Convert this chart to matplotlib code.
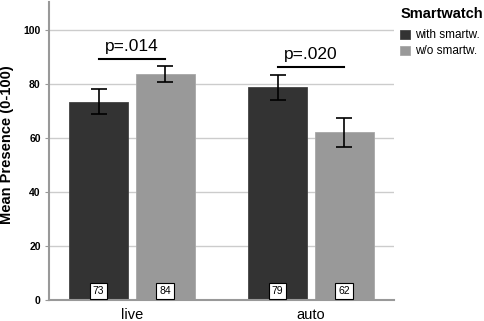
import numpy as np
import matplotlib
matplotlib.use("Agg")
import matplotlib.pyplot as plt

plt.rcParams["font.family"] = ["Liberation Sans", "DejaVu Sans"]

conditions = ["live", "auto"]
with_sw = [73.5, 78.8]
without_sw = [83.7, 62.1]
with_err = [4.7, 4.7]
without_err = [2.9, 5.5]
with_labels = ["73", "79"]
without_labels = ["84", "62"]
p_texts = ["p=.014", "p=.020"]
p_levels = [89.2, 86.5]
series_names = ["with smartw.", "w/o smartw."]

dark, light = "#333333", "#999999"

fig = plt.figure(figsize=(4.84, 3.21), dpi=100)
ax = fig.add_axes([49 / 484, 21.5 / 321, 345 / 484, 297.5 / 321])

x = np.arange(len(conditions))
w = 0.33
off = 0.186

ax.set_axisbelow(True)
ax.yaxis.grid(True, color="#cccccc", lw=1)

b1 = ax.bar(x - off, with_sw, w, color=dark, edgecolor="#444444", lw=0.6, label=series_names[0])
b2 = ax.bar(x + off, without_sw, w, color=light, edgecolor="#a8a8a8", lw=0.6, label=series_names[1])
ax.errorbar(x - off, with_sw, yerr=with_err, fmt="none", ecolor="black", elinewidth=1.2, capsize=6, capthick=1.2)
ax.errorbar(x + off, without_sw, yerr=without_err, fmt="none", ecolor="black", elinewidth=1.2, capsize=6, capthick=1.2)

# n labels at bar bottoms
for xi, lab in zip(x - off, with_labels):
    ax.text(xi, 3.2, lab, ha="center", va="center", fontsize=7.5,
            bbox=dict(boxstyle="square,pad=0.3", fc="white", ec="black", lw=0.8))
for xi, lab in zip(x + off, without_labels):
    ax.text(xi, 3.2, lab, ha="center", va="center", fontsize=7.5,
            bbox=dict(boxstyle="square,pad=0.3", fc="white", ec="black", lw=0.8))

# significance lines
for xi, lvl, txt in zip(x, p_levels, p_texts):
    ax.plot([xi - off, xi + off], [lvl, lvl], color="black", lw=1.5)
    ax.text(xi, lvl + 3.0, txt, ha="center", va="baseline", fontsize=12.5)

ax.set_xlim(-0.463, 1.465)
ax.set_ylim(0, 110.5)
ax.set_yticks([0, 20, 40, 60, 80, 100])
ax.set_xticks(x)
ax.set_xticklabels(conditions, fontsize=10.5)
ax.tick_params(axis="x", length=0, pad=6)
ax.tick_params(axis="y", length=3, color="#999999", labelsize=7.5, pad=3)
for t in ax.get_yticklabels():
    t.set_fontweight("bold")

for s in ["top", "right"]:
    ax.spines[s].set_visible(False)
for s in ["left", "bottom"]:
    ax.spines[s].set_color("#999999")
    ax.spines[s].set_linewidth(1.5)

ax.set_ylabel("Mean Presence (0-100)", fontsize=10.5, fontweight="bold")
ax.yaxis.set_label_coords(-0.1, 0.52)

fig.text(401 / 484, 1 - 18.5 / 321, "Smartwatch", fontsize=10.5, fontweight="bold",
         ha="left", va="baseline")
leg = fig.legend(handles=[b1, b2], labels=series_names,
                 loc="upper left", bbox_to_anchor=(398 / 484, 1 - 27 / 321), frameon=False,
                 fontsize=8.5, handlelength=0.8, handleheight=0.8, handletextpad=0.4,
                 labelspacing=0.35, borderaxespad=0.0, borderpad=0.2)

fig.savefig("out.png", dpi=100)
